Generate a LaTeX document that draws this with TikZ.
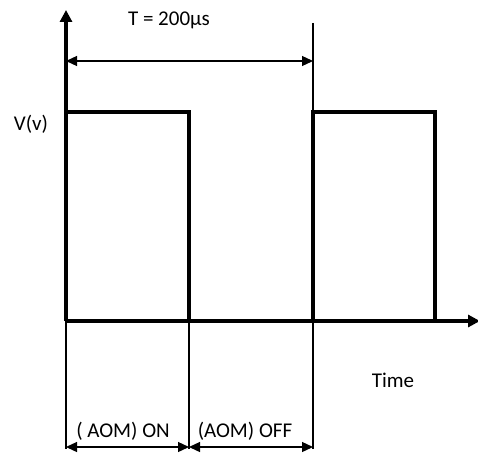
\documentclass[tikz,border=0pt]{standalone}
\usepackage{fontspec}
\setmainfont{Carlito}
\usetikzlibrary{arrows.meta}
\begin{document}
\begin{tikzpicture}[x=1pt,y=-1pt,
  axis/.style={line width=4pt,-{Triangle[length=12pt,width=12pt]}},
  pulse/.style={line width=4pt,line join=miter},
  guide/.style={line width=1.3pt},
  dim/.style={line width=1.3pt,{Triangle[length=11pt,width=10pt]}-{Triangle[length=11pt,width=10pt]}},
  lbl/.style={font=\fontsize{21}{24}\selectfont,inner sep=0pt}]
\useasboundingbox (0,0) rectangle (478,452);
% named coordinates
\coordinate (o) at (66,321);
\coordinate (ytop) at (66,10);
\coordinate (xend) at (480,321);
\coordinate (p1a) at (66,112);
\coordinate (p1b) at (189,112);
\coordinate (p1c) at (189,321);
\coordinate (p2a) at (313,321);
\coordinate (p2b) at (313,112);
\coordinate (p2c) at (435,112);
\coordinate (p2d) at (435,321);
\coordinate (gtop) at (313,23);
\coordinate (ta) at (66,61);
\coordinate (tb) at (313,61);
\coordinate (b0) at (66,449);
\coordinate (b1) at (189,449);
\coordinate (b2) at (313,449);
\coordinate (d0) at (66,447);
\coordinate (d1) at (189,447);
\coordinate (d2) at (313,447);
% pulses
\draw[pulse] (p1a) -- (p1b) -- (p1c);
\draw[pulse] (p2a) -- (p2b) -- (p2c) -- (p2d);
% axes
\draw[axis] (o) -- (ytop);
\draw[axis] (o) -- (xend);
% guides
\draw[guide] (gtop) -- (p2b);
\draw[guide] (o) -- (b0);
\draw[guide] (p1c) -- (b1);
\draw[guide] (p2a) -- (b2);
% dimensions
\draw[dim] (ta) -- (tb);
\draw[dim] (d0) -- (d1);
\draw[dim] (d1) -- (d2);
% labels
\node[lbl] (tl) at (169,20) {T = 200µs};
\node[lbl] (vl) at (31,124) {V(v)};
\node[lbl] (tm) at (393,380) {Time};
\node[lbl] (on) at (123,431) {( AOM) ON};
\node[lbl] (off) at (245,431) {(AOM) OFF};
\end{tikzpicture}
\end{document}
